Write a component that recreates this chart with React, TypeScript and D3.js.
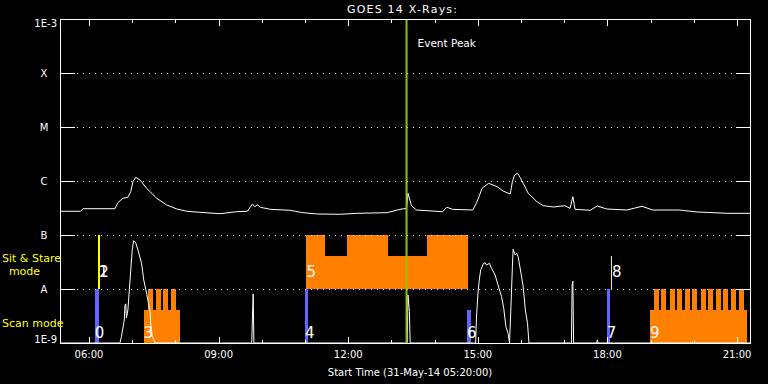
import React from "react";
import * as d3 from "d3";

// GOES 14 x-ray flux with IRIS observation modes, 31-May-2014
const day = "2014-05-31";
const startTime = "05:20";
const endTime = "21:18";
const eventPeak = "13:21";

const yTickValues = [1e-9, 1e-8, 1e-7, 1e-6, 1e-5, 1e-4, 1e-3];
const yTickLabels = ["1E-9", "A", "B", "C", "M", "X", "1E-3"];
const xTickLabels = ["06:00", "09:00", "12:00", "15:00", "18:00", "21:00"];

// long channel (1-8 A)
const longTimes = [
  "05:20", "05:48", "05:52", "06:36", "06:40", "06:47", "06:54", "06:58", "07:01", "07:05",
  "07:11", "07:20", "07:34", "07:48", "08:02", "08:16", "08:34", "09:02", "09:25", "09:40",
  "09:47", "09:50", "09:54", "09:58", "10:12", "10:39", "10:57", "11:17", "11:49", "12:12",
  "12:54", "13:12", "13:21", "13:23", "13:28", "13:35", "14:11", "14:17", "14:25", "14:53",
  "14:58", "15:06", "15:15", "15:27", "15:35", "15:45", "15:48", "15:51", "15:55", "15:59",
  "16:03", "16:10", "16:22", "16:31", "16:45", "17:01", "17:08", "17:12", "17:15", "17:36",
  "17:46", "17:59", "18:27", "18:48", "19:03", "19:40", "20:04", "20:47", "21:18",
];
const longFlux = [
  2.75e-7, 2.75e-7, 3.07e-7, 3.07e-7, 3.96e-7, 4.79e-7, 4.99e-7, 6.34e-7, 9.7e-7, 1.17e-6,
  1.04e-6, 7.33e-7, 4.79e-7, 3.6e-7, 3.03e-7, 2.75e-7, 2.63e-7, 2.48e-7, 2.7e-7, 2.75e-7,
  3.75e-7, 3.34e-7, 3.6e-7, 3.26e-7, 2.99e-7, 2.87e-7, 2.59e-7, 2.45e-7, 2.42e-7, 2.52e-7,
  2.59e-7, 2.99e-7, 3.12e-7, 5.92e-7, 3.44e-7, 2.9e-7, 2.7e-7, 3.26e-7, 2.99e-7, 2.9e-7,
  3.86e-7, 7.33e-7, 9.06e-7, 7.84e-7, 6.53e-7, 5.74e-7, 9.7e-7, 1.29e-6, 1.39e-6, 1.15e-6,
  9.06e-7, 5.92e-7, 4.14e-7, 3.49e-7, 3.3e-7, 3.49e-7, 3.12e-7, 5.12e-7, 2.99e-7, 2.87e-7,
  3.44e-7, 3.03e-7, 2.9e-7, 3.4e-7, 2.9e-7, 2.9e-7, 2.67e-7, 2.52e-7, 2.52e-7,
];

// short channel (0.5-4 A), 1e-10 = below the plot
const shortTimes = [
  "05:20", "06:43", "06:45", "06:49", "06:50", "06:51", "06:52", "06:54", "06:58", "07:00",
  "07:02", "07:05", "07:08", "07:13", "07:16", "07:20", "07:25", "07:26", "07:28", "07:32",
  "09:46", "09:47", "09:48", "09:49", "13:22", "13:23", "13:25", "13:26", "14:57", "14:58",
  "15:00", "15:02", "15:04", "15:08", "15:10", "15:12", "15:16", "15:19", "15:24", "15:28",
  "15:33", "15:36", "15:39", "15:42", "15:44", "15:46", "15:48", "15:49", "15:52", "15:54",
  "15:56", "16:00", "16:03", "16:06", "16:09", "16:11", "17:10", "17:11", "17:12", "17:13",
  "17:45", "17:46", "17:47", "21:18",
];
const shortFlux = [
  1e-10, 1e-10, 1.31e-9, 2.67e-9, 5.05e-9, 5.3e-9, 2.9e-9, 4.08e-9, 2.25e-8, 5.27e-8,
  7.84e-8, 7.11e-8, 5.27e-8, 2.99e-8, 1.47e-8, 8.43e-9, 3.59e-9, 2.0e-9, 1.31e-9, 1e-10,
  1e-10, 3e-9, 8.1e-9, 1e-10, 1e-10, 7.74e-9, 3.8e-9, 1e-10, 1e-10, 2.67e-9,
  7.74e-9, 1.47e-8, 2.25e-8, 2.99e-8, 3.07e-8, 2.78e-8, 2.99e-8, 2.42e-8, 1.82e-8, 1.19e-8,
  7.2e-9, 4.39e-9, 2.0e-9, 1.51e-9, 1e-10, 4.7e-9, 2.59e-8, 5.43e-8, 4.26e-8, 4.58e-8,
  3.96e-8, 1.95e-8, 1.1e-8, 4.08e-9, 2.32e-9, 1e-10, 1e-10, 1.2e-8, 1.4e-8, 1e-10,
  1e-10, 1.15e-9, 1e-10, 1e-10,
];

// scan mode single observations (blue)
const scanLabels = ["0", "4", "6", "7"];
const scanStart = ["06:08", "11:00", "14:45", "17:59"];
const scanEnd = ["06:14", "11:04", "14:50", "18:04"];
const scanTop = [1e-8, 1e-8, 4e-9, 1e-8];

// sit & stare single observations (yellow)
const stareLabels = ["1", "2", "8"];
const stareStart = ["06:12", "06:13", "18:05"];
const stareEnd = ["06:15", "06:15", "18:07"];
const stareTop = [1e-7, 1e-7, 4e-8];

// repeated scan blocks (orange)
const blockLabels = ["3", "9"];
const blockStart = ["07:16", "18:59"];
const blockEnd = ["08:06", "21:14"];
const blockTeeth = [
  ["07:22", "07:33", "07:43", "07:54"],
  ["19:05", "19:15", "19:27", "19:37", "19:48", "19:58", "20:10", "20:20", "20:31", "20:41", "20:52", "21:03"],
];
const toothMinutes = 6.5;
const blockBase = 4e-9;

// repeated sit & stare block 5 (orange)
const stareBlockLabel = "5";
const stareBlockStart = "11:02";
const stareBlockEnd = "14:46";
const stareBlockBase = 4e-8;
const stareBlockHighStart = ["11:02", "11:58", "13:49"];
const stareBlockHighEnd = ["11:28", "12:55", "14:46"];

const parse = d3.timeParse("%Y-%m-%d %H:%M");
const t = (s: string) => parse(`${day} ${s}`) as Date;

const BLUE = "#6464ff";
const YELLOW = "#ffff00";
const ORANGE = "#ff8000";
const GREEN = "#8cc800";
const font = "DejaVu Sans, sans-serif";

export default function App() {
  const left = 60, right = 750, top = 19, bottom = 343;
  const x = d3.scaleTime().domain([t(startTime), t(endTime)]).range([left + 0.2, right]);
  const y = d3.scaleLog().domain([1e-9, 1e-3]).range([bottom, top]).clamp(true);

  const line = d3
    .line<[Date, number]>()
    .x((d) => x(d[0]))
    .y((d) => y(d[1]));
  const longPath = line(longTimes.map((s, i) => [t(s), longFlux[i]]));
  const shortPath = line(shortTimes.map((s, i) => [t(s), shortFlux[i]]));

  const hours = x.ticks(d3.timeHour.every(1) as d3.TimeInterval);
  const fmt = d3.timeFormat("%H:%M");

  const rectBetween = (s: Date, e: Date, lo: number, hi: number, fill: string, key: string) => (
    <rect
      key={key}
      x={x(s)}
      width={Math.max(1, x(e) - x(s))}
      y={y(hi)}
      height={y(lo) - y(hi)}
      fill={fill}
      shapeRendering="crispEdges"
    />
  );

  return (
    <svg width={768} height={384} style={{ position: "absolute", left: 0, top: 0 }} fontFamily={font}>
      <rect width={768} height={384} fill="#000" />

      {/* orange blocks */}
      {blockStart.map((s, i) => (
        <g key={"b" + i}>
          {rectBetween(t(s), t(blockEnd[i]), 1e-9, blockBase, ORANGE, "base")}
          {blockTeeth[i].map((ts, j) =>
            rectBetween(t(ts), d3.timeSecond.offset(t(ts), toothMinutes * 60), blockBase, 1e-8, ORANGE, "t" + j)
          )}
        </g>
      ))}
      {rectBetween(t(stareBlockStart), t(stareBlockEnd), 1e-8, stareBlockBase, ORANGE, "sb")}
      {stareBlockHighStart.map((s, i) =>
        rectBetween(t(s), t(stareBlockHighEnd[i]), stareBlockBase, 1e-7, ORANGE, "sh" + i)
      )}

      {/* single observations */}
      {scanStart.map((s, i) => rectBetween(t(s), t(scanEnd[i]), 1e-9, scanTop[i], BLUE, "sc" + i))}
      {stareStart.map((s, i) => rectBetween(t(s), t(stareEnd[i]), 1e-8, stareTop[i], YELLOW, "st" + i))}

      {/* grid */}
      {yTickValues.slice(1, -1).map((v) => (
        <g key={"g" + v} shapeRendering="crispEdges" stroke="#fff">
          <line x1={left} x2={left + 15} y1={Math.round(y(v)) + 0.5} y2={Math.round(y(v)) + 0.5} />
          <line x1={right - 14} x2={right} y1={Math.round(y(v)) + 0.5} y2={Math.round(y(v)) + 0.5} />
          <line x1={77} x2={right - 14} y1={Math.round(y(v)) + 0.5} y2={Math.round(y(v)) + 0.5} strokeDasharray="1 5" />
        </g>
      ))}

      {/* flux curves */}
      <path d={longPath ?? ""} fill="none" stroke="#fff" strokeWidth={1} />
      <path d={shortPath ?? ""} fill="none" stroke="#fff" strokeWidth={1} />

      {/* event peak */}
      <line x1={x(t(eventPeak))} x2={x(t(eventPeak))} y1={top} y2={bottom} stroke={GREEN} strokeWidth={2} />
      <text x={x(t(eventPeak)) + 11} y={47} fill="#fff" fontSize={10.5}>Event Peak</text>

      {/* axes box and ticks */}
      <rect x={left + 0.5} y={top + 0.5} width={right - left} height={bottom - top} fill="none" stroke="#fff" shapeRendering="crispEdges" />
      {hours.map((h) => {
        const major = h.getHours() % 3 === 0;
        const len = major ? 6 : 3;
        const xx = Math.round(x(h)) + 0.5;
        return (
          <g key={"h" + h.getTime()} stroke="#fff" shapeRendering="crispEdges">
            <line x1={xx} x2={xx} y1={bottom} y2={bottom - len} />
            <line x1={xx} x2={xx} y1={top} y2={top + len + 1} />
          </g>
        );
      })}
      {xTickLabels.map((s) => (
        <text key={"xl" + s} x={x(t(s))} y={358} fill="#fff" fontSize={10} textAnchor="middle">{fmt(t(s))}</text>
      ))}
      {yTickValues.map((v, i) => {
        const lab = yTickLabels[i];
        const edge = lab.startsWith("1E");
        const yy = i === 0 ? y(v) : i === yTickValues.length - 1 ? y(v) + 8 : y(v) + 4;
        return (
          <text key={"yl" + lab} x={edge ? 57 : 44} y={yy} fill="#fff" fontSize={10} textAnchor={edge ? "end" : "middle"}>
            {lab}
          </text>
        );
      })}

      {/* observation labels */}
      {scanStart.map((s, i) => (
        <text key={"scl" + i} x={x(t(s))} y={338} fill="#fff" fontSize={15}>{scanLabels[i]}</text>
      ))}
      {stareStart.map((s, i) => (
        <text key={"stl" + i} x={x(t(s)) + 1} y={277} fill="#fff" fontSize={15}>{stareLabels[i]}</text>
      ))}
      {blockStart.map((s, i) => (
        <text key={"bl" + i} x={x(t(s))} y={338} fill="#fff" fontSize={15}>{blockLabels[i]}</text>
      ))}
      <text x={x(t(stareBlockStart))} y={277} fill="#fff" fontSize={15}>{stareBlockLabel}</text>

      {/* mode labels */}
      <text x={2} y={262} fill={YELLOW} fontSize={11}>Sit &amp; Stare</text>
      <text x={24.5} y={275} fill={YELLOW} fontSize={11} textAnchor="middle">mode</text>
      <text x={2} y={327} fill={YELLOW} fontSize={11}>Scan mode</text>

      <text x={402} y={13} fill="#fff" fontSize={11} textAnchor="middle" textLength={110}>GOES 14 X-Rays:</text>
      <text x={410} y={376} fill="#fff" fontSize={10} textAnchor="middle">Start Time (31-May-14 05:20:00)</text>
    </svg>
  );
}
